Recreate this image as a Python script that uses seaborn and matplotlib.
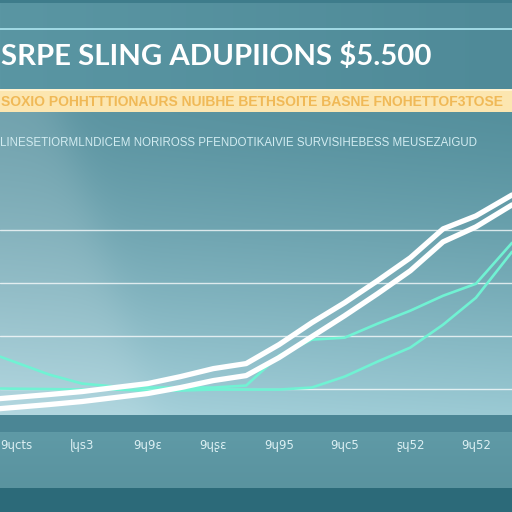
import numpy as np
import pandas as pd
import seaborn as sns
import matplotlib.pyplot as plt

sns.set_theme(style="white")
plt.rcParams['font.family'] = ['DejaVu Sans']

# Texts
title = "SRPE SLING ADUPIIONS $5.500"
banner = "SOXIO POHHTTTIONAURS NUIBHE BETHSOITE BASNE FNOHETTOF3TOSE"
subtitle = "LINESETIORMLNDICEM NORIROSS PFENDOTIKAIVIE SURVISIHEBESS MEUSEZAIGUD"
tick_labels = ["9ɥcts", "ɭɥs3", "9ɥ9ɛ", "9ɥʂɛ", "9ɥ95", "9ɥc5", "ʂɥ52", "9ɥ52"]

# Data
periods = [-0.25, 0.5, 1, 1.5, 2, 2.5, 3, 3.5, 4, 4.5, 5, 5.5, 6, 6.5, 7, 7.55]
white_a = [810, 887, 943, 1019, 1094, 1226, 1377, 1472, 1830, 2245, 2623, 3038, 3472, 4019, 4264, 4660]
white_b = [620, 698, 755, 830, 906, 1019, 1151, 1245, 1585, 1981, 2377, 2792, 3226, 3774, 4057, 4472]
teal_a = [1604, 1264, 1094, 1038, 1019, 1019, 1019, 1057, 1623, 1925, 1962, 2226, 2472, 2755, 2981, 3755]
teal_b = [1000, 990, 981, 981, 962, 962, 981, 981, 981, 1019, 1226, 1509, 1774, 2208, 2717, 3585]
grid_vals = [1000, 2000, 3000, 4000]

df = pd.DataFrame({"period": periods, "white_a": white_a, "white_b": white_b,
                   "teal_a": teal_a, "teal_b": teal_b})


def rgb(h):
    h = h.lstrip('#')
    return np.array([int(h[i:i + 2], 16) for i in (0, 2, 4)]) / 255.0


# Background picture
H = W = 512
yy, xx = np.mgrid[0:H, 0:W].astype(float)
bg = np.zeros((H, W, 3))
fx = (xx / (W - 1))[..., None]

# header
top = rgb('#5a96a3') * (1 - fx) + rgb('#4f8a98') * fx
bg[:] = top
bg[0:3] = rgb('#3e7c8b')
bg[28:30] = rgb('#9fd8e3')
# banner band
bg[89:112] = rgb('#fce6b0')
bg[89:91] = rgb('#fff2cf')
# under banner / plot region
t = np.clip((yy - 112) / (415 - 112), 0, 1)[..., None]
plot_top = rgb('#5e96a3') * (1 - fx) + rgb('#55909d') * fx
plot_bot = rgb('#a8d2dc') * (1 - fx) + rgb('#9bcad4') * fx
region = plot_top * (1 - t ** 1.3) + plot_bot * t ** 1.3
# light beam on the left
edge = 60 + (yy - 112) * 0.3
beam = (1 / (1 + np.exp(-(edge - xx) / 12)))[..., None] * 0.13
region = region + (1 - region) * beam
bg[112:415] = region[112:415]
# band under plot
bg[415:432] = rgb('#4b8695')
tb = np.clip((yy - 432) / 56, 0, 1)[..., None]
lower = rgb('#5f9aa6') * (1 - tb) + rgb('#5a939f') * tb
bg[432:488] = lower[432:488]
bg[488:] = rgb('#2c6a79')

fig = plt.figure(figsize=(5.12, 5.12), dpi=100)
bgax = fig.add_axes([0, 0, 1, 1])
bgax.imshow(bg, aspect='auto', interpolation='bilinear')
bgax.axis('off')

ax = fig.add_axes([0, 97 / 512, 1, 238 / 512])
ax.patch.set_alpha(0)

teal = "#70f2d3"
sns.lineplot(data=df, x="period", y="teal_b", ax=ax, color=teal, lw=1.9)
sns.lineplot(data=df, x="period", y="teal_a", ax=ax, color=teal, lw=1.9)
sns.lineplot(data=df, x="period", y="white_b", ax=ax, color="white", lw=3.8, solid_capstyle='round')
sns.lineplot(data=df, x="period", y="white_a", ax=ax, color="white", lw=3.8, solid_capstyle='round')

ax.set_xlim(-0.25, 7.55)
ax.set_ylim(500, 5000)
ax.set_yticks(grid_vals)
ax.set_yticklabels([])
ax.yaxis.grid(True, color='white', lw=1, alpha=0.75)
ax.set_axisbelow(True)
ax.set_xticks(range(len(tick_labels)))
ax.set_xticklabels(tick_labels, color='#dcf0f3', fontsize=8.5)
ax.tick_params(axis='x', direction='out', length=3, color='#cfe6ea', pad=14, width=0.8)
ax.tick_params(axis='y', length=0)
ax.set_xlabel("")
ax.set_ylabel("")
for s in ax.spines.values():
    s.set_visible(False)

fig.text(0.002, 1 - 57 / 512, title, color='white', fontsize=21.2, fontweight='bold',
         family='Lato', va='center', ha='left')
fig.text(0.002, 1 - 102 / 512, banner, color='#f0b957', fontsize=10.0, fontweight='bold',
         family='Liberation Sans', va='center', ha='left')
fig.text(0.0, 1 - 143 / 512, subtitle, color='#d2ecf1', fontsize=8.3,
         family='Liberation Sans', va='center', ha='left')

fig.savefig('out.png', dpi=100)
